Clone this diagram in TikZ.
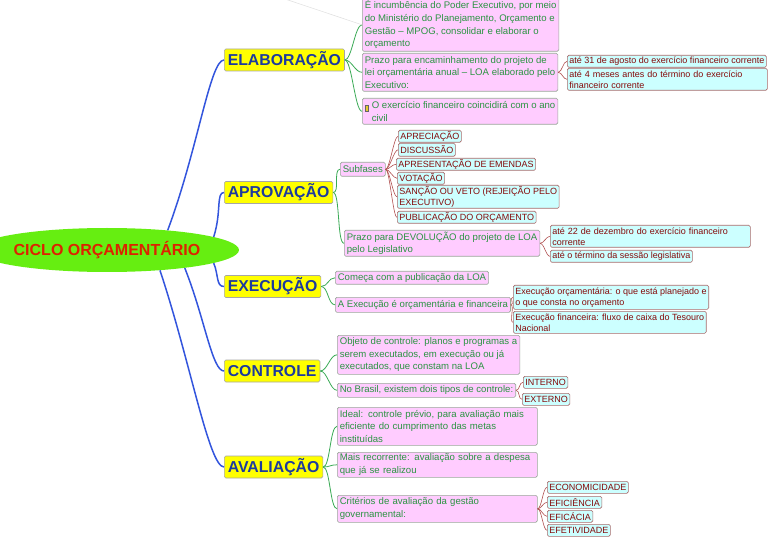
\documentclass[tikz,border=0pt]{standalone}
\usepackage{fontspec}
\setmainfont{Liberation Sans}
\usetikzlibrary{shapes.geometric}
\definecolor{pinkfill}{HTML}{FFCCFF}
\definecolor{pinkline}{HTML}{9AA89A}
\definecolor{greentext}{HTML}{2B9442}
\definecolor{cyanfill}{HTML}{CCFFFF}
\definecolor{cyanline}{HTML}{A86A6A}
\definecolor{redtext}{HTML}{850A0A}
\definecolor{headblue}{HTML}{1C3A9E}
\definecolor{headfill}{HTML}{FFFF00}
\definecolor{rootfill}{HTML}{66EE11}
\definecolor{roottext}{HTML}{DD2200}
\definecolor{blueedge}{HTML}{3355DD}
\definecolor{greenedge}{HTML}{3AAA55}
\definecolor{rededge}{HTML}{B05050}
\tikzset{
  pbox/.style={draw=pinkline, fill=pinkfill, rounded corners=1.5pt, text=greentext,
    font=\fontsize{9.6}{12.7}\selectfont, align=left, anchor=north west,
    inner xsep=2.5pt, inner ysep=0.5pt, line width=0.6pt},
  cbox/.style={draw=cyanline, fill=cyanfill, rounded corners=1.5pt, text=redtext,
    font=\fontsize{9}{11}\selectfont, align=left, anchor=north west,
    inner xsep=2pt, inner ysep=0.3pt, line width=0.6pt},
  hbox/.style={draw=gray!70, fill=headfill, rounded corners=1.5pt, text=headblue,
    font=\bfseries\fontsize{15.8}{18}\selectfont, anchor=west,
    inner xsep=3.5pt, inner ysep=0pt, minimum height=22pt, line width=0.6pt},
  rootnode/.style={ellipse, fill=rootfill, text=roottext, inner sep=0pt,
    font=\bfseries\fontsize{16}{18}\selectfont, minimum width=218pt, minimum height=44pt},
  bedge/.style={draw=blueedge, line width=1.5pt},
  gedge/.style={draw=greenedge, line width=0.8pt},
  redge/.style={draw=rededge, line width=0.6pt},
  linkedge/.style={draw=gray!25, line width=0.5pt}
}
\begin{document}
\begin{tikzpicture}[x=1pt,y=-1pt]
\useasboundingbox (0,0) rectangle (768,537);
\fill[white] (0,0) rectangle (768,537);

% root
\node[rootnode] (root) at (107,250) {CICLO ORÇAMENTÁRIO};

% headers
\node[hbox] (ela) at (224,60) {ELABORAÇÃO};
\node[hbox] (apr) at (224,192.5) {APROVAÇÃO};
\node[hbox] (exe) at (224,286.5) {EXECUÇÃO};
\node[hbox] (con) at (224,371) {CONTROLE};
\node[hbox] (ava) at (224,467) {AVALIAÇÃO};

% ELABORAÇÃO
\node[pbox, minimum height=53pt] (e1) at (362,-2) {É incumbência do Poder Executivo, por meio\\do Ministério do Planejamento, Orçamento e\\Gestão – MPOG, consolidar e elaborar o\\orçamento};
\node[pbox, minimum height=38pt] (e2) at (362,53) {Prazo para encaminhamento do projeto de\\lei orçamentária anual – LOA elaborado pelo\\Executivo:};
\node[pbox, minimum height=26pt] (e3) at (362,98) {\hspace*{7pt}O exercício financeiro coincidirá com o ano\\\hspace*{7pt}civil};
\draw[draw=black!60, fill=yellow!60!brown, line width=0.4pt] (365,105) rectangle (368,111);
\node[cbox, minimum height=12pt] (e2a) at (567,55) {até 31 de agosto do exercício financeiro corrente};
\node[cbox, minimum height=22pt, text width=196pt] (e2b) at (567,68) {até 4 meses antes do término do exercício\\financeiro corrente};
\coordinate (lk) at (285,-1);

% APROVAÇÃO
\node[pbox, minimum height=14pt] (sub) at (340,162) {Subfases};
\node[pbox, minimum height=26pt] (a2) at (344,230) {Prazo para DEVOLUÇÃO do projeto de LOA\\pelo Legislativo};
\node[cbox, minimum height=12pt] (ap1) at (398,130) {APRECIAÇÃO};
\node[cbox, minimum height=13pt] (ap2) at (398,143) {DISCUSSÃO};
\node[cbox, minimum height=12pt] (ap3) at (396,158) {APRESENTAÇÃO DE EMENDAS};
\node[cbox, minimum height=12pt] (ap4) at (397,172) {VOTAÇÃO};
\node[cbox, minimum height=23pt] (ap5) at (397,185) {SANÇÃO OU VETO (REJEIÇÃO PELO\\EXECUTIVO)};
\node[cbox, minimum height=12pt] (ap6) at (397,211) {PUBLICAÇÃO DO ORÇAMENTO};
\node[cbox, minimum height=22pt, text width=196pt] (d1) at (550,225) {até 22 de dezembro do exercício financeiro\\corrente};
\node[cbox, minimum height=12pt] (d2) at (550,250) {até o término da sessão legislativa};

% EXECUÇÃO
\node[pbox, minimum height=13pt] (x1) at (335,271) {Começa com a publicação da LOA};
\node[pbox, minimum height=15pt] (x2) at (335,297) {A Execução é orçamentária e financeira};
\node[cbox, minimum height=24pt] (x2a) at (513,285) {Execução orçamentária: o que está planejado e\\o que consta no orçamento};
\node[cbox, minimum height=22pt] (x2b) at (513,311) {Execução financeira: fluxo de caixa do Tesouro\\Nacional};

% CONTROLE
\node[pbox, minimum height=39pt] (c1) at (337,335) {Objeto de controle: planos e programas a\\serem executados, em execução ou já\\executados, que constam na LOA};
\node[pbox, minimum height=14pt] (c2) at (337,383) {No Brasil, existem dois tipos de controle:};
\node[cbox, minimum height=12pt] (in) at (523,376) {INTERNO};
\node[cbox, minimum height=12pt] (ex) at (522,393) {EXTERNO};

% AVALIAÇÃO
\node[pbox, minimum height=38pt, text width=195pt] (v1) at (337,407) {Ideal: controle prévio, para avaliação mais\\eficiente do cumprimento das metas\\instituídas};
\node[pbox, minimum height=25pt, text width=195pt] (v2) at (337,452) {Mais recorrente: avaliação sobre a despesa\\que já se realizou};
\node[pbox, minimum height=27pt, text width=195pt] (v3) at (337,495) {Critérios de avaliação da gestão\\governamental:};
\node[cbox, minimum height=12pt] (v3a) at (547,481) {ECONOMICIDADE};
\node[cbox, minimum height=12pt] (v3b) at (547,496) {EFICIÊNCIA};
\node[cbox, minimum height=12pt] (v3c) at (547,510) {EFICÁCIA};
\node[cbox, minimum height=12pt] (v3d) at (547,524) {EFETIVIDADE};

% root edges
\draw[bedge] (root.18) .. controls +(30,-80) and +(-14,0) .. (ela.west);
\draw[bedge] (root.7) .. controls +(8,-25) and +(-8,0) .. (apr.west);
\draw[bedge] (root.-7) .. controls +(5,12) and +(-8,0) .. (exe.west);
\draw[bedge] (root.-13) .. controls +(20,50) and +(-12,0) .. (con.west);
\draw[bedge] (root.-21.4) .. controls +(30,90) and +(-15,0) .. (ava.west);

% header edges
\foreach \p/\c in {ela/e1, ela/e2, ela/e3, apr/sub, apr/a2, exe/x1, exe/x2, con/c1, con/c2, ava/v1, ava/v2, ava/v3}
  \draw[gedge] (\p.east) .. controls +(7,0) and +(-7,0) .. (\c.west);

% sub edges
\foreach \p/\c in {e2/e2a, e2/e2b, sub/ap1, sub/ap2, sub/ap3, sub/ap4, sub/ap5, sub/ap6, a2/d1, a2/d2, x2/x2a, x2/x2b, c2/in, c2/ex, v3/v3a, v3/v3b, v3/v3c, v3/v3d}
  \draw[redge] (\p.east) .. controls +(4,0) and +(-4,0) .. (\c.west);

% faint link line
\draw[linkedge] (lk) -- (e1.west);
\end{tikzpicture}
\end{document}
